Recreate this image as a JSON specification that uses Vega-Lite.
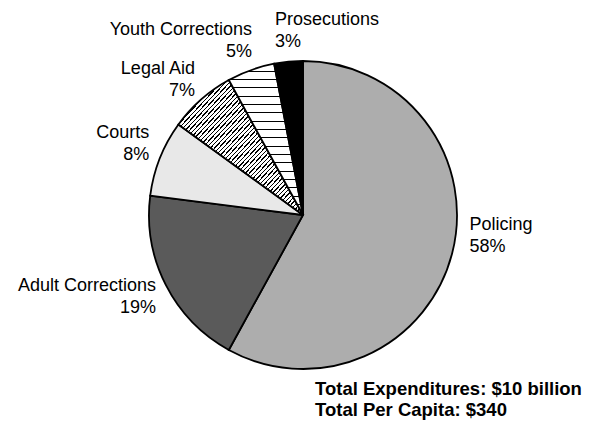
{
  "$schema": "https://vega.github.io/schema/vega-lite/v6.json",
  "width": 584,
  "height": 420,
  "padding": {"left": 11, "top": 1, "right": 0, "bottom": 0},
  "background": "white",
  "config": {"view": {"stroke": null}, "font": "Liberation Sans"},
  "title": {
    "text": ["Total Expenditures: $10 billion", "Total Per Capita: $340"],
    "orient": "bottom",
    "frame": "group",
    "anchor": "middle",
    "align": "left",
    "dx": 12,
    "offset": -45,
    "baseline": "top",
    "fontSize": 18.5,
    "fontWeight": "bold",
    "lineHeight": 21,
    "font": "Liberation Sans",
    "color": "black"
  },
  "data": {
    "values": [
      {"category": "Policing", "value": 58, "label": "Policing\n58%"},
      {"category": "Adult Corrections", "value": 19, "label": "Adult Corrections\n19%"},
      {"category": "Courts", "value": 8, "label": "Courts\n8%"},
      {"category": "Legal Aid", "value": 7, "label": "Legal Aid\n7%"},
      {"category": "Youth Corrections", "value": 5, "label": "Youth Corrections\n5%"},
      {"category": "Prosecutions", "value": 3, "label": "Prosecutions\n3%"}
    ]
  },
  "encoding": {
    "theta": {"field": "value", "type": "quantitative", "stack": true},
    "order": {"field": "value", "sort": "descending"}
  },
  "layer": [
    {
      "mark": {"type": "arc", "outerRadius": 154, "stroke": "black", "strokeWidth": 1.8},
      "encoding": {
        "color": {
          "condition": [
            {"test": "datum.category === 'Legal Aid'", "value": {"gradient": "linear", "x1": 0, "y1": 0, "x2": 1, "y2": 1, "stops": [
              {"offset":0,"color":"#fff"},
              {"offset":0.0112,"color":"#fff"},{"offset":0.0112,"color":"#000"},{"offset":0.0167,"color":"#000"},{"offset":0.0167,"color":"#fff"},
              {"offset":0.0278,"color":"#fff"},{"offset":0.0278,"color":"#000"},{"offset":0.0333,"color":"#000"},{"offset":0.0333,"color":"#fff"},
              {"offset":0.0445,"color":"#fff"},{"offset":0.0445,"color":"#000"},{"offset":0.05,"color":"#000"},{"offset":0.05,"color":"#fff"},
              {"offset":0.0612,"color":"#fff"},{"offset":0.0612,"color":"#000"},{"offset":0.0667,"color":"#000"},{"offset":0.0667,"color":"#fff"},
              {"offset":0.0778,"color":"#fff"},{"offset":0.0778,"color":"#000"},{"offset":0.0833,"color":"#000"},{"offset":0.0833,"color":"#fff"},
              {"offset":0.0945,"color":"#fff"},{"offset":0.0945,"color":"#000"},{"offset":0.1,"color":"#000"},{"offset":0.1,"color":"#fff"},
              {"offset":0.1112,"color":"#fff"},{"offset":0.1112,"color":"#000"},{"offset":0.1167,"color":"#000"},{"offset":0.1167,"color":"#fff"},
              {"offset":0.1278,"color":"#fff"},{"offset":0.1278,"color":"#000"},{"offset":0.1333,"color":"#000"},{"offset":0.1333,"color":"#fff"},
              {"offset":0.1445,"color":"#fff"},{"offset":0.1445,"color":"#000"},{"offset":0.15,"color":"#000"},{"offset":0.15,"color":"#fff"},
              {"offset":0.1612,"color":"#fff"},{"offset":0.1612,"color":"#000"},{"offset":0.1667,"color":"#000"},{"offset":0.1667,"color":"#fff"},
              {"offset":0.1778,"color":"#fff"},{"offset":0.1778,"color":"#000"},{"offset":0.1833,"color":"#000"},{"offset":0.1833,"color":"#fff"},
              {"offset":0.1945,"color":"#fff"},{"offset":0.1945,"color":"#000"},{"offset":0.2,"color":"#000"},{"offset":0.2,"color":"#fff"},
              {"offset":0.2112,"color":"#fff"},{"offset":0.2112,"color":"#000"},{"offset":0.2167,"color":"#000"},{"offset":0.2167,"color":"#fff"},
              {"offset":0.2278,"color":"#fff"},{"offset":0.2278,"color":"#000"},{"offset":0.2333,"color":"#000"},{"offset":0.2333,"color":"#fff"},
              {"offset":0.2445,"color":"#fff"},{"offset":0.2445,"color":"#000"},{"offset":0.25,"color":"#000"},{"offset":0.25,"color":"#fff"},
              {"offset":0.2612,"color":"#fff"},{"offset":0.2612,"color":"#000"},{"offset":0.2667,"color":"#000"},{"offset":0.2667,"color":"#fff"},
              {"offset":0.2778,"color":"#fff"},{"offset":0.2778,"color":"#000"},{"offset":0.2833,"color":"#000"},{"offset":0.2833,"color":"#fff"},
              {"offset":0.2945,"color":"#fff"},{"offset":0.2945,"color":"#000"},{"offset":0.3,"color":"#000"},{"offset":0.3,"color":"#fff"},
              {"offset":0.3112,"color":"#fff"},{"offset":0.3112,"color":"#000"},{"offset":0.3167,"color":"#000"},{"offset":0.3167,"color":"#fff"},
              {"offset":0.3278,"color":"#fff"},{"offset":0.3278,"color":"#000"},{"offset":0.3333,"color":"#000"},{"offset":0.3333,"color":"#fff"},
              {"offset":0.3445,"color":"#fff"},{"offset":0.3445,"color":"#000"},{"offset":0.35,"color":"#000"},{"offset":0.35,"color":"#fff"},
              {"offset":0.3612,"color":"#fff"},{"offset":0.3612,"color":"#000"},{"offset":0.3667,"color":"#000"},{"offset":0.3667,"color":"#fff"},
              {"offset":0.3778,"color":"#fff"},{"offset":0.3778,"color":"#000"},{"offset":0.3833,"color":"#000"},{"offset":0.3833,"color":"#fff"},
              {"offset":0.3945,"color":"#fff"},{"offset":0.3945,"color":"#000"},{"offset":0.4,"color":"#000"},{"offset":0.4,"color":"#fff"},
              {"offset":0.4112,"color":"#fff"},{"offset":0.4112,"color":"#000"},{"offset":0.4167,"color":"#000"},{"offset":0.4167,"color":"#fff"},
              {"offset":0.4278,"color":"#fff"},{"offset":0.4278,"color":"#000"},{"offset":0.4333,"color":"#000"},{"offset":0.4333,"color":"#fff"},
              {"offset":0.4445,"color":"#fff"},{"offset":0.4445,"color":"#000"},{"offset":0.45,"color":"#000"},{"offset":0.45,"color":"#fff"},
              {"offset":0.4612,"color":"#fff"},{"offset":0.4612,"color":"#000"},{"offset":0.4667,"color":"#000"},{"offset":0.4667,"color":"#fff"},
              {"offset":0.4778,"color":"#fff"},{"offset":0.4778,"color":"#000"},{"offset":0.4833,"color":"#000"},{"offset":0.4833,"color":"#fff"},
              {"offset":0.4945,"color":"#fff"},{"offset":0.4945,"color":"#000"},{"offset":0.5,"color":"#000"},{"offset":0.5,"color":"#fff"},
              {"offset":0.5112,"color":"#fff"},{"offset":0.5112,"color":"#000"},{"offset":0.5167,"color":"#000"},{"offset":0.5167,"color":"#fff"},
              {"offset":0.5278,"color":"#fff"},{"offset":0.5278,"color":"#000"},{"offset":0.5333,"color":"#000"},{"offset":0.5333,"color":"#fff"},
              {"offset":0.5445,"color":"#fff"},{"offset":0.5445,"color":"#000"},{"offset":0.55,"color":"#000"},{"offset":0.55,"color":"#fff"},
              {"offset":0.5612,"color":"#fff"},{"offset":0.5612,"color":"#000"},{"offset":0.5667,"color":"#000"},{"offset":0.5667,"color":"#fff"},
              {"offset":0.5778,"color":"#fff"},{"offset":0.5778,"color":"#000"},{"offset":0.5833,"color":"#000"},{"offset":0.5833,"color":"#fff"},
              {"offset":0.5945,"color":"#fff"},{"offset":0.5945,"color":"#000"},{"offset":0.6,"color":"#000"},{"offset":0.6,"color":"#fff"},
              {"offset":0.6112,"color":"#fff"},{"offset":0.6112,"color":"#000"},{"offset":0.6167,"color":"#000"},{"offset":0.6167,"color":"#fff"},
              {"offset":0.6278,"color":"#fff"},{"offset":0.6278,"color":"#000"},{"offset":0.6333,"color":"#000"},{"offset":0.6333,"color":"#fff"},
              {"offset":0.6445,"color":"#fff"},{"offset":0.6445,"color":"#000"},{"offset":0.65,"color":"#000"},{"offset":0.65,"color":"#fff"},
              {"offset":0.6612,"color":"#fff"},{"offset":0.6612,"color":"#000"},{"offset":0.6667,"color":"#000"},{"offset":0.6667,"color":"#fff"},
              {"offset":0.6778,"color":"#fff"},{"offset":0.6778,"color":"#000"},{"offset":0.6833,"color":"#000"},{"offset":0.6833,"color":"#fff"},
              {"offset":0.6945,"color":"#fff"},{"offset":0.6945,"color":"#000"},{"offset":0.7,"color":"#000"},{"offset":0.7,"color":"#fff"},
              {"offset":0.7112,"color":"#fff"},{"offset":0.7112,"color":"#000"},{"offset":0.7167,"color":"#000"},{"offset":0.7167,"color":"#fff"},
              {"offset":0.7278,"color":"#fff"},{"offset":0.7278,"color":"#000"},{"offset":0.7333,"color":"#000"},{"offset":0.7333,"color":"#fff"},
              {"offset":0.7445,"color":"#fff"},{"offset":0.7445,"color":"#000"},{"offset":0.75,"color":"#000"},{"offset":0.75,"color":"#fff"},
              {"offset":0.7612,"color":"#fff"},{"offset":0.7612,"color":"#000"},{"offset":0.7667,"color":"#000"},{"offset":0.7667,"color":"#fff"},
              {"offset":0.7778,"color":"#fff"},{"offset":0.7778,"color":"#000"},{"offset":0.7833,"color":"#000"},{"offset":0.7833,"color":"#fff"},
              {"offset":0.7945,"color":"#fff"},{"offset":0.7945,"color":"#000"},{"offset":0.8,"color":"#000"},{"offset":0.8,"color":"#fff"},
              {"offset":0.8112,"color":"#fff"},{"offset":0.8112,"color":"#000"},{"offset":0.8167,"color":"#000"},{"offset":0.8167,"color":"#fff"},
              {"offset":0.8278,"color":"#fff"},{"offset":0.8278,"color":"#000"},{"offset":0.8333,"color":"#000"},{"offset":0.8333,"color":"#fff"},
              {"offset":0.8445,"color":"#fff"},{"offset":0.8445,"color":"#000"},{"offset":0.85,"color":"#000"},{"offset":0.85,"color":"#fff"},
              {"offset":0.8612,"color":"#fff"},{"offset":0.8612,"color":"#000"},{"offset":0.8667,"color":"#000"},{"offset":0.8667,"color":"#fff"},
              {"offset":0.8778,"color":"#fff"},{"offset":0.8778,"color":"#000"},{"offset":0.8833,"color":"#000"},{"offset":0.8833,"color":"#fff"},
              {"offset":0.8945,"color":"#fff"},{"offset":0.8945,"color":"#000"},{"offset":0.9,"color":"#000"},{"offset":0.9,"color":"#fff"},
              {"offset":0.9112,"color":"#fff"},{"offset":0.9112,"color":"#000"},{"offset":0.9167,"color":"#000"},{"offset":0.9167,"color":"#fff"},
              {"offset":0.9278,"color":"#fff"},{"offset":0.9278,"color":"#000"},{"offset":0.9333,"color":"#000"},{"offset":0.9333,"color":"#fff"},
              {"offset":0.9445,"color":"#fff"},{"offset":0.9445,"color":"#000"},{"offset":0.95,"color":"#000"},{"offset":0.95,"color":"#fff"},
              {"offset":0.9612,"color":"#fff"},{"offset":0.9612,"color":"#000"},{"offset":0.9667,"color":"#000"},{"offset":0.9667,"color":"#fff"},
              {"offset":0.9778,"color":"#fff"},{"offset":0.9778,"color":"#000"},{"offset":0.9833,"color":"#000"},{"offset":0.9833,"color":"#fff"},
              {"offset":1,"color":"#fff"}
            ]}},
            {"test": "datum.category === 'Youth Corrections'", "value": {"gradient": "linear", "x1": 0, "y1": 0, "x2": 0, "y2": 1, "stops": [
              {"offset":0,"color":"#fff"},
              {"offset":0.046,"color":"#fff"},{"offset":0.046,"color":"#000"},{"offset":0.053,"color":"#000"},{"offset":0.053,"color":"#fff"},
              {"offset":0.1011,"color":"#fff"},{"offset":0.1011,"color":"#000"},{"offset":0.1081,"color":"#000"},{"offset":0.1081,"color":"#fff"},
              {"offset":0.1562,"color":"#fff"},{"offset":0.1562,"color":"#000"},{"offset":0.1632,"color":"#000"},{"offset":0.1632,"color":"#fff"},
              {"offset":0.2113,"color":"#fff"},{"offset":0.2113,"color":"#000"},{"offset":0.2183,"color":"#000"},{"offset":0.2183,"color":"#fff"},
              {"offset":0.2664,"color":"#fff"},{"offset":0.2664,"color":"#000"},{"offset":0.2734,"color":"#000"},{"offset":0.2734,"color":"#fff"},
              {"offset":0.3215,"color":"#fff"},{"offset":0.3215,"color":"#000"},{"offset":0.3285,"color":"#000"},{"offset":0.3285,"color":"#fff"},
              {"offset":0.3766,"color":"#fff"},{"offset":0.3766,"color":"#000"},{"offset":0.3836,"color":"#000"},{"offset":0.3836,"color":"#fff"},
              {"offset":0.4317,"color":"#fff"},{"offset":0.4317,"color":"#000"},{"offset":0.4387,"color":"#000"},{"offset":0.4387,"color":"#fff"},
              {"offset":0.4868,"color":"#fff"},{"offset":0.4868,"color":"#000"},{"offset":0.4938,"color":"#000"},{"offset":0.4938,"color":"#fff"},
              {"offset":0.5419,"color":"#fff"},{"offset":0.5419,"color":"#000"},{"offset":0.5489,"color":"#000"},{"offset":0.5489,"color":"#fff"},
              {"offset":0.597,"color":"#fff"},{"offset":0.597,"color":"#000"},{"offset":0.604,"color":"#000"},{"offset":0.604,"color":"#fff"},
              {"offset":0.6521,"color":"#fff"},{"offset":0.6521,"color":"#000"},{"offset":0.6591,"color":"#000"},{"offset":0.6591,"color":"#fff"},
              {"offset":0.7072,"color":"#fff"},{"offset":0.7072,"color":"#000"},{"offset":0.7142,"color":"#000"},{"offset":0.7142,"color":"#fff"},
              {"offset":0.7623,"color":"#fff"},{"offset":0.7623,"color":"#000"},{"offset":0.7693,"color":"#000"},{"offset":0.7693,"color":"#fff"},
              {"offset":0.8174,"color":"#fff"},{"offset":0.8174,"color":"#000"},{"offset":0.8244,"color":"#000"},{"offset":0.8244,"color":"#fff"},
              {"offset":0.8725,"color":"#fff"},{"offset":0.8725,"color":"#000"},{"offset":0.8795,"color":"#000"},{"offset":0.8795,"color":"#fff"},
              {"offset":0.9276,"color":"#fff"},{"offset":0.9276,"color":"#000"},{"offset":0.9346,"color":"#000"},{"offset":0.9346,"color":"#fff"},
              {"offset":0.9827,"color":"#fff"},{"offset":0.9827,"color":"#000"},{"offset":0.9897,"color":"#000"},{"offset":0.9897,"color":"#fff"},
              {"offset":1,"color":"#fff"}
            ]}}
          ],
          "field": "category",
          "type": "nominal",
          "scale": {
            "domain": ["Policing", "Adult Corrections", "Courts", "Legal Aid", "Youth Corrections", "Prosecutions"],
            "range": ["#adadad", "#5a5a5a", "#e8e8e8", "#ffffff", "#ffffff", "#000000"]
          },
          "legend": null
        }
      }
    },
    {
      "mark": {"type": "text", "radius": 174, "dx": 8, "dy": -18, "align": "right", "baseline": "middle", "lineBreak": "\n", "fontSize": 18, "lineHeight": 22, "font": "Liberation Sans", "fill": "black"},
      "encoding": {
        "detail": {"field": "category"},
        "text": {"condition": {"test": "datum.category === 'Courts'", "field": "label"}, "value": ""}
      }
    },
    {
      "mark": {"type": "text", "radius": 174, "dx": 7, "dy": -15, "align": "right", "baseline": "middle", "lineBreak": "\n", "fontSize": 18, "lineHeight": 22, "font": "Liberation Sans", "fill": "black"},
      "encoding": {
        "detail": {"field": "category"},
        "text": {"condition": {"test": "datum.category === 'Legal Aid'", "field": "label"}, "value": ""}
      }
    },
    {
      "mark": {"type": "text", "radius": 174, "dx": 8, "dy": -21, "align": "right", "baseline": "middle", "lineBreak": "\n", "fontSize": 18, "lineHeight": 22, "font": "Liberation Sans", "fill": "black"},
      "encoding": {
        "detail": {"field": "category"},
        "text": {"condition": {"test": "datum.category === 'Youth Corrections'", "field": "label"}, "value": ""}
      }
    },
    {
      "mark": {"type": "text", "radius": 174, "dx": 8, "dy": -8, "align": "right", "baseline": "middle", "lineBreak": "\n", "fontSize": 18, "lineHeight": 22, "font": "Liberation Sans", "fill": "black"},
      "encoding": {
        "detail": {"field": "category"},
        "text": {"condition": {"test": "datum.category === 'Adult Corrections'", "field": "label"}, "value": ""}
      }
    },
    {
      "mark": {"type": "text", "radius": 172, "dx": 0, "dy": -33, "align": "left", "baseline": "middle", "lineBreak": "\n", "fontSize": 18, "lineHeight": 22, "font": "Liberation Sans", "fill": "black"},
      "encoding": {
        "detail": {"field": "category"},
        "text": {"condition": {"test": "datum.category === 'Policing'", "field": "label"}, "value": ""}
      }
    },
    {
      "mark": {"type": "text", "radius": 181, "dx": -11, "dy": -15, "align": "left", "baseline": "middle", "lineBreak": "\n", "fontSize": 18, "lineHeight": 22, "font": "Liberation Sans", "fill": "black"},
      "encoding": {
        "detail": {"field": "category"},
        "text": {"condition": {"test": "datum.category === 'Prosecutions'", "field": "label"}, "value": ""}
      }
    }
  ]
}
